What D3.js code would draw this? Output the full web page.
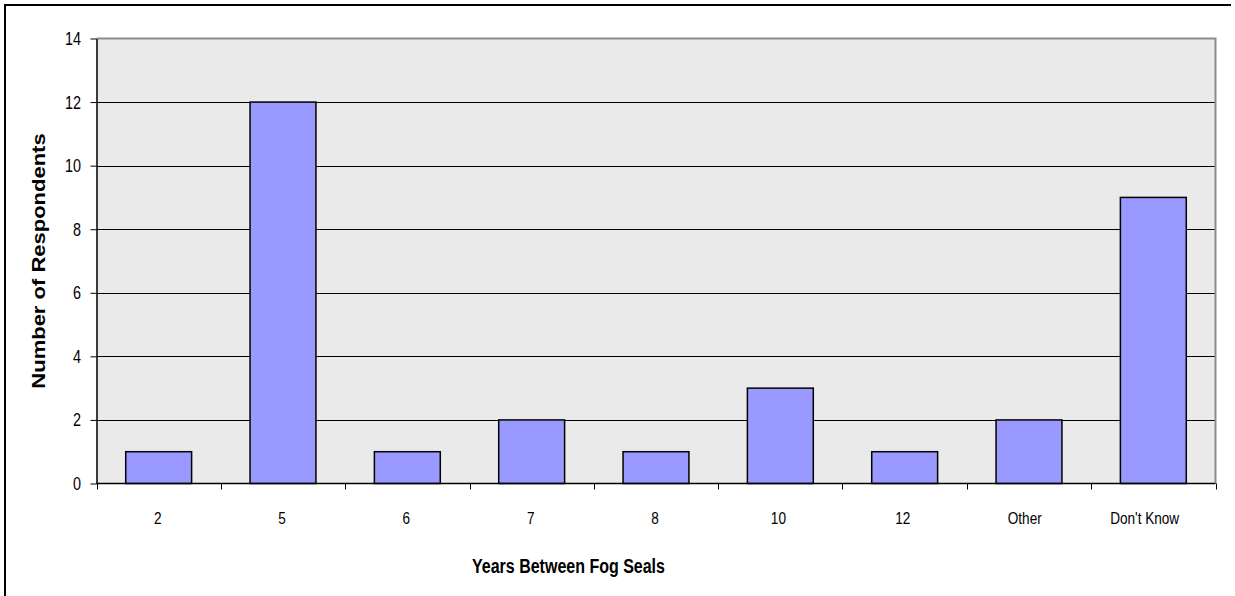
<!DOCTYPE html>
<html>
<head>
<meta charset="utf-8">
<script src="https://cdn.jsdelivr.net/npm/d3@7"></script>
<style>
  html, body { margin: 0; padding: 0; background: #fff; }
  svg { display: block; font-family: "Liberation Sans", Arial, sans-serif; }
</style>
</head>
<body>
<svg id="chart" width="1235" height="596"></svg>
<script>
const categories = ["2", "5", "6", "7", "8", "10", "12", "Other", "Don't Know"];
const respondents = [1, 12, 1, 2, 1, 3, 1, 2, 9];
const yTicks = [0, 2, 4, 6, 8, 10, 12, 14];
const xTitle = "Years Between Fog Seals";
const yTitle = "Number of Respondents";

const SX = 0.8; // horizontal squeeze of the original chart's text
const svg = d3.select("#chart");
const m = { left: 96.5, top: 38.5, right: 1215.5, bottom: 483.5 };

// outer frame (top and left visible)
svg.append("line").attr("x1", 5).attr("x2", 1231).attr("y1", 5).attr("y2", 5)
  .attr("stroke", "#000").attr("stroke-width", 2);
svg.append("line").attr("x1", 5).attr("x2", 5).attr("y1", 4).attr("y2", 596)
  .attr("stroke", "#000").attr("stroke-width", 2);

const x = d3.scaleBand().domain(categories).range([m.left, m.right])
  .paddingInner(0.47).paddingOuter(0.235);
const y = d3.scaleLinear().domain([0, 14]).range([m.bottom, m.top]);

// plot background
svg.append("rect").attr("x", m.left).attr("y", m.top)
  .attr("width", m.right - m.left).attr("height", m.bottom - m.top)
  .attr("fill", "#EAEAEA");

// gridlines
svg.append("g").selectAll("line").data(yTicks.filter(d => d > 0 && d < 14)).join("line")
  .attr("x1", m.left).attr("x2", m.right)
  .attr("y1", d => Math.round(y(d)) + 0.5).attr("y2", d => Math.round(y(d)) + 0.5)
  .attr("stroke", "#000").attr("stroke-width", 1);

// plot border top/right (gray)
svg.append("path")
  .attr("d", `M${m.left},${m.top}H${m.right}V${m.bottom}`)
  .attr("fill", "none").attr("stroke", "#8c8c8c").attr("stroke-width", 2);

// bars
svg.append("g").selectAll("rect").data(respondents).join("rect")
  .attr("x", (d, i) => x(categories[i]))
  .attr("y", d => y(d))
  .attr("width", x.bandwidth())
  .attr("height", d => y(0) - y(d))
  .attr("fill", "#9999FF")
  .attr("stroke", "#000").attr("stroke-width", 1.5);

// y axis (line + ticks via d3 axis, labels drawn squeezed)
const yAxis = d3.axisLeft(y).tickValues(yTicks).tickSize(6).tickSizeOuter(0).tickFormat("");
const gy = svg.append("g").attr("transform", `translate(${m.left},0)`).call(yAxis);
gy.select(".domain").attr("stroke", "#000").attr("stroke-width", 1.5);
gy.selectAll(".tick line").attr("stroke", "#000");
svg.append("g").selectAll("g").data(yTicks).join("g")
  .attr("transform", d => `translate(81,${y(d)}) scale(${SX},1)`)
  .append("text")
  .attr("text-anchor", "end").attr("dy", "0.36em")
  .attr("font-size", 18).attr("fill", "#000")
  .text(d => d);

// x axis with ticks between categories
const xb = d3.scaleLinear().domain([0, categories.length]).range([m.left, m.right]);
const gx = svg.append("g");
gx.append("line").attr("x1", m.left).attr("x2", m.right)
  .attr("y1", m.bottom).attr("y2", m.bottom).attr("stroke", "#000").attr("stroke-width", 1.5);
gx.selectAll("line.tk").data(d3.range(categories.length + 1)).join("line")
  .attr("class", "tk")
  .attr("x1", d => Math.round(xb(d)) + 0.5).attr("x2", d => Math.round(xb(d)) + 0.5)
  .attr("y1", m.bottom).attr("y2", m.bottom + 6)
  .attr("stroke", "#000");
// labels: left edge placed as if unsqueezed & centred, then squeezed
const lbl = gx.selectAll("g.lbl").data(categories).join("g").attr("class", "lbl");
lbl.append("text")
  .attr("text-anchor", "start")
  .attr("font-size", 17)
  .attr("fill", "#000")
  .text(d => d);
lbl.attr("transform", function (d) {
  const len = this.querySelector("text").getComputedTextLength();
  return `translate(${x(d) + x.bandwidth() / 2 - len / 2 + (len * SX) / 2 * 0.0},524) scale(${SX},1)`;
});

// axis titles
svg.append("g").attr("transform", `translate(472,573) scale(${SX},1)`)
  .append("text")
  .attr("text-anchor", "start")
  .attr("font-size", 20).attr("font-weight", "bold")
  .text(xTitle);

svg.append("g")
  .attr("transform", `translate(45,${(m.top + m.bottom) / 2}) scale(${SX},1) rotate(-90)`)
  .append("text")
  .attr("text-anchor", "middle")
  .attr("font-size", 22).attr("font-weight", "bold")
  .text(yTitle);
</script>
</body>
</html>
